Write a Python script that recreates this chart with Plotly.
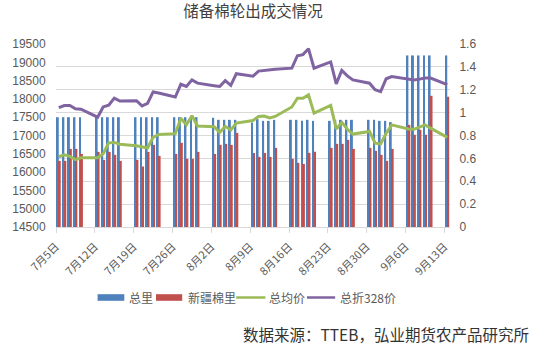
import plotly.graph_objects as go

# ---------------- data ----------------
dates = [
    "2021-07-05", "2021-07-06", "2021-07-07", "2021-07-08", "2021-07-09",
    "2021-07-12", "2021-07-13", "2021-07-14", "2021-07-15", "2021-07-16",
    "2021-07-19", "2021-07-20", "2021-07-21", "2021-07-22", "2021-07-23",
    "2021-07-26", "2021-07-27", "2021-07-28", "2021-07-29", "2021-07-30",
    "2021-08-02", "2021-08-03", "2021-08-04", "2021-08-05", "2021-08-06",
    "2021-08-09", "2021-08-10", "2021-08-11", "2021-08-12", "2021-08-13",
    "2021-08-16", "2021-08-17", "2021-08-18", "2021-08-19", "2021-08-20",
    "2021-08-23", "2021-08-24", "2021-08-25", "2021-08-26", "2021-08-27",
    "2021-08-30", "2021-08-31", "2021-09-01", "2021-09-02", "2021-09-03",
    "2021-09-06", "2021-09-07", "2021-09-08", "2021-09-09", "2021-09-10",
    "2021-09-13",
]

total_volume = [
    0.96, 0.96, 0.96, 0.96, 0.96,
    0.96, 0.96, 0.96, 0.96, 0.96,
    0.96, 0.96, 0.96, 0.96, 0.96,
    0.96, 0.96, 0.96, 0.96, 0.96,
    0.955, 0.937, 0.937, 0.937, 0.937,
    0.914, 0.943, 0.928, 0.928, 0.937,
    0.937, 0.937, 0.928, 0.937, 0.928,
    0.928, 0.937, 0.937, 0.937, 0.937,
    0.937, 0.937, 0.928, 0.928, 0.917,
    1.5, 1.5, 1.5, 1.5, 1.5,
    1.5,
]

xinjiang_volume = [
    0.578, 0.578, 0.683, 0.683, 0.639,
    0.657, 0.587, 0.657, 0.631, 0.578,
    0.587, 0.528, 0.657, 0.718, 0.622,
    0.639, 0.736, 0.596, 0.596, 0.657,
    0.639, 0.718, 0.727, 0.718, 0.823,
    0.648, 0.613, 0.648, 0.613, 0.692,
    0.596, 0.561, 0.552, 0.648, 0.657,
    0.692, 0.727, 0.727, 0.762, 0.683,
    0.692, 0.666, 0.631, 0.578, 0.683,
    0.893, 0.806, 0.850, 0.806, 1.147,
    1.139,
]

avg_price = [
    16420, 16470, 16430, 16340, 16390,
    16390, 16500, 16800, 16810, 16760,
    16720, 16680, 16660, 16950, 17030,
    17050, 17470, 17290, 17540, 17260,
    17240, 17080, 17250, 17150, 17340,
    17410, 17520, 17530, 17480, 17520,
    17780, 18020, 18020, 18110, 17610,
    17820, 17180, 17360, 17170, 17040,
    17110, 16790, 16770, 17060, 17290,
    17180, 17170, 17230, 17290, 17200,
    16950,
]

price_328 = [
    17760, 17820, 17820, 17730, 17720,
    17500, 17780, 17830, 18020, 17940,
    17950, 17810, 17880, 18190, 18160,
    18050, 18400, 18340, 18520, 18430,
    18360, 18340, 18500, 18370, 18690,
    18620, 18760, 18770, 18780, 18810,
    18840, 19180, 19210, 19370, 18840,
    19010, 18410, 18780, 18630, 18520,
    18430, 18250, 18200, 18550, 18610,
    18540, 18520, 18540, 18570, 18570,
    18390,
]

tick_dates = [
    "2021-07-05", "2021-07-12", "2021-07-19", "2021-07-26", "2021-08-02",
    "2021-08-09", "2021-08-16", "2021-08-23", "2021-08-30", "2021-09-06",
    "2021-09-13",
]
tick_labels = [
    "7月5日", "7月12日", "7月19日", "7月26日", "8月2日",
    "8月9日", "8月16日", "8月23日", "8月30日", "9月6日", "9月13日",
]

series_names = ["总里", "新疆棉里", "总均价", "总折328价"]
series_colors = ["#4f81bd", "#c0504d", "#9bbb59", "#8064a2"]

title_text = "储备棉轮出成交情况"
source_text = "数据来源：TTEB，弘业期货农产品研究所"

# ---------------- layout constants ----------------
W, H = 552, 351
ML, MR, MT, MB = 52, 102, 44, 124
PW, PH = W - ML - MR, H - MT - MB
CJK = "Noto Sans CJK SC"
NUM = "Liberation Sans"
DAY_MS = 86400000


def px_x(px):
    return (px - ML) / PW


def px_y(py):
    return (H - MB - py) / PH


fig = go.Figure()

# bars on primary (right) axis
fig.add_trace(go.Bar(
    x=dates, y=total_volume, name=series_names[0],
    marker=dict(color=series_colors[0], line=dict(width=0)),
    xperiod=DAY_MS, xperiodalignment="middle", yaxis="y",
))
fig.add_trace(go.Bar(
    x=dates, y=xinjiang_volume, name=series_names[1],
    marker=dict(color=series_colors[1], line=dict(width=0)),
    xperiod=DAY_MS, xperiodalignment="middle", yaxis="y",
))
# lines on overlaying (left) axis, drawn on top of bars
fig.add_trace(go.Scatter(
    x=dates, y=avg_price, name=series_names[2], mode="lines",
    line=dict(color=series_colors[2], width=3),
    xperiod=DAY_MS, xperiodalignment="middle", yaxis="y2",
))
fig.add_trace(go.Scatter(
    x=dates, y=price_328, name=series_names[3], mode="lines",
    line=dict(color=series_colors[3], width=3),
    xperiod=DAY_MS, xperiodalignment="middle", yaxis="y2",
))

# ---------------- custom legend ----------------
shapes = []
annotations = []
legend_items = [
    # (kind, x0, x1, text_x)
    ("rect", 94, 121, 124),
    ("rect", 153, 179.5, 183),
    ("line", 234, 263.5, 265.5),
    ("line", 305.5, 334, 336.5),
]
ly = 297.5
for i, (kind, x0, x1, tx) in enumerate(legend_items):
    if kind == "rect":
        shapes.append(dict(type="rect", xref="paper", yref="paper",
                           x0=px_x(x0), x1=px_x(x1), y0=px_y(ly + 3.3), y1=px_y(ly - 3.3),
                           fillcolor=series_colors[i], line=dict(width=0)))
    else:
        shapes.append(dict(type="line", xref="paper", yref="paper",
                           x0=px_x(x0), x1=px_x(x1), y0=px_y(ly), y1=px_y(ly),
                           line=dict(color=series_colors[i], width=2.5)))
    annotations.append(dict(text=series_names[i], xref="paper", yref="paper",
                            x=px_x(tx), y=px_y(ly), xanchor="left", yanchor="middle",
                            showarrow=False,
                            font=dict(family=CJK, size=12, color="#595959")))

annotations.append(dict(text=source_text, xref="paper", yref="paper",
                        x=px_x(532), y=px_y(334), xanchor="right", yanchor="middle",
                        showarrow=False,
                        font=dict(family=CJK, size=15.5, color="#333333")))

fig.update_layout(
    width=W, height=H,
    margin=dict(l=ML, r=MR, t=MT, b=MB, pad=0),
    paper_bgcolor="white", plot_bgcolor="white",
    showlegend=False,
    barmode="group", bargap=0.3, bargroupgap=0,
    title=dict(text=title_text, xref="paper", x=0.5, xanchor="center",
               yref="container", y=1 - 12 / H, yanchor="middle",
               font=dict(family=CJK, size=15.5, color="#404040")),
    xaxis=dict(
        type="date", range=["2021-07-05", "2021-09-14"],
        tickvals=tick_dates, ticktext=tick_labels, tickangle=-45,
        tickfont=dict(family=CJK, size=11, color="#595959"),
        ticklabelstandoff=3,
        showline=True, linecolor="#d9d9d9", linewidth=1,
        ticks="outside", ticklen=5, tickcolor="#d9d9d9", tickwidth=1,
        showgrid=False, zeroline=False,
    ),
    yaxis=dict(
        side="right", range=[0, 1.6], dtick=0.2, tick0=0,
        showgrid=True, gridcolor="#d9d9d9", gridwidth=1, zeroline=False,
        showline=False,
        ticks="outside", ticklen=6, tickcolor="rgba(0,0,0,0)",
        tickfont=dict(family=NUM, size=12, color="#595959"),
    ),
    yaxis2=dict(
        side="left", overlaying="y", anchor="x",
        range=[14500, 19500], dtick=500, tick0=14500, tickformat="d",
        showgrid=False, zeroline=False, showline=False,
        ticks="outside", ticklen=7, tickcolor="rgba(0,0,0,0)",
        tickfont=dict(family=NUM, size=12, color="#595959"),
    ),
    shapes=shapes,
    annotations=annotations,
)

fig.write_html("out.html")
